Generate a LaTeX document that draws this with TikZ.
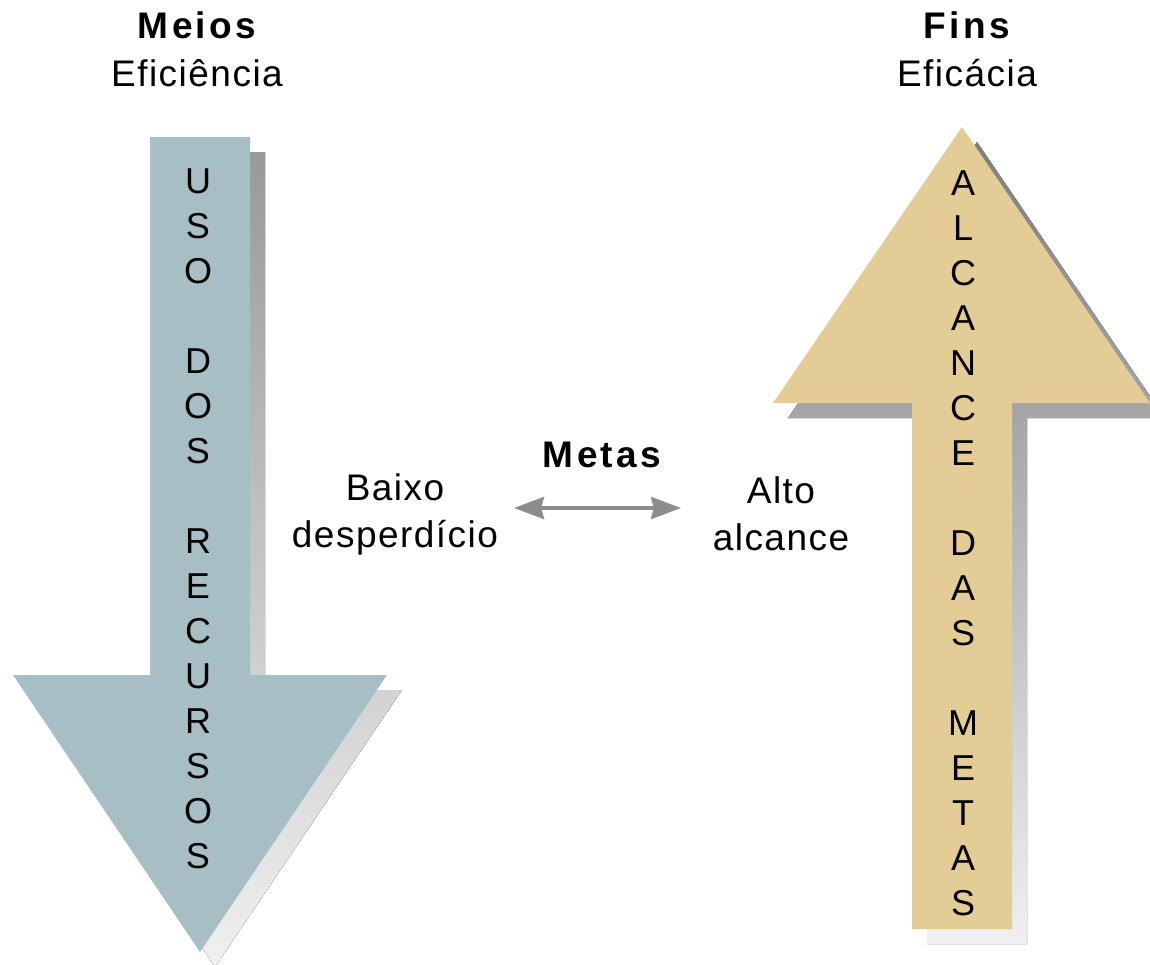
\documentclass[tikz,border=0pt]{standalone}
\usepackage{fontspec}
\setmainfont{Liberation Sans}
\newfontfamily\widefont[LetterSpace=4]{Liberation Sans}
\newfontfamily\widebold[LetterSpace=9]{Liberation Sans}
\usetikzlibrary{arrows.meta}
\definecolor{bluegray}{HTML}{A6BEC4}
\definecolor{sand}{HTML}{E3CC96}
\definecolor{midgray}{HTML}{8C8C8C}
\begin{document}
\begin{tikzpicture}[x=1pt,y=-1pt,
  label/.style={font=\widefont\fontsize{37}{47}\selectfont, align=center, inner sep=0pt},
  title/.style={font=\widebold\bfseries\fontsize{37}{47}\selectfont, inner sep=0pt},
  letter/.style={font=\fontsize{36}{42}\selectfont, inner sep=0pt, text height=26pt, text depth=0pt},
  shadowfill/.style={top color=#1, bottom color=black!6, draw=none}]
\useasboundingbox (0,0) rectangle (1150,964);
% left arrow (down)
\fill[shadowfill=black!40] (165,152) -- (265,152) -- (265,690) -- (402,690) -- (215,967) -- (28,690) -- (165,690) -- cycle;
\fill[bluegray] (150,137) -- (250,137) -- (250,675) -- (387,675) -- (200,952) -- (13,675) -- (150,675) -- cycle;
% right arrow (up)
\fill[shadowfill=black!50] (977,142) -- (1165,418) -- (1027,418) -- (1027,944) -- (927,944) -- (927,418) -- (788,418) -- cycle;
\fill[sand] (962,127) -- (1150,403) -- (1012,403) -- (1012,929) -- (912,929) -- (912,403) -- (773,403) -- cycle;
% letters
\foreach \c [count=\i] in {U,S,O,,D,O,S,,R,E,C,U,R,S,O,S}
  \node[letter] (l\i) at (198,{180+45*(\i-1)}) {\c};
\foreach \c [count=\i] in {A,L,C,A,N,C,E,,D,A,S,,M,E,T,A,S}
  \node[letter] (r\i) at (963,{182+45*(\i-1)}) {\c};
% headers
\node[title] (meios) at (197,25) {Meios};
\node[label] (efic) at (197,73) {Eficiência};
\node[title] (fins) at (967,25) {Fins};
\node[label] (eficacia) at (967,73) {Eficácia};
% middle
\node[title] (metas) at (602,455) {Metas};
\node[label] (baixo) at (395,514) {Baixo\\desperdício};
\node[label] (alto) at (781,514) {Alto\\alcance};
\coordinate (ma) at (514,508);
\coordinate (mb) at (681,508);
\draw[midgray, line width=4pt, {Stealth[length=30pt,width=22pt,inset=3pt]}-{Stealth[length=30pt,width=22pt,inset=3pt]}] (ma) -- (mb);
\end{tikzpicture}
\end{document}
